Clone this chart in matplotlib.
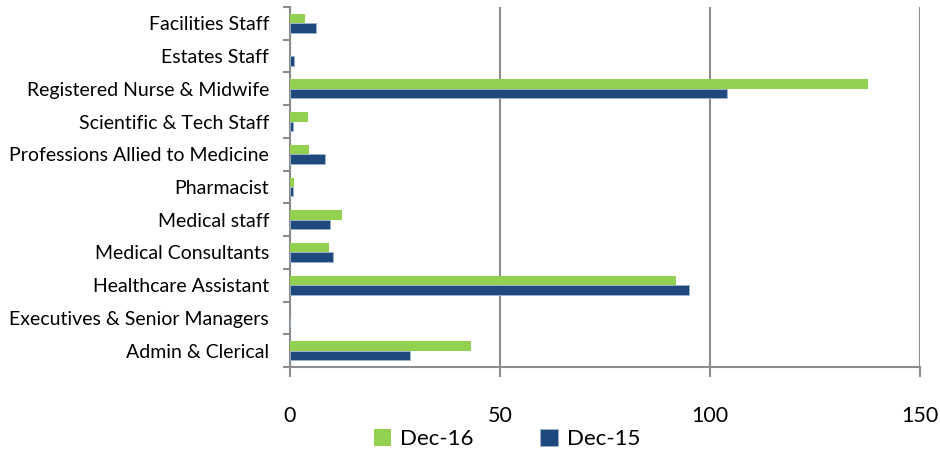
import matplotlib
matplotlib.use("Agg")
import matplotlib.pyplot as plt
import numpy as np

categories = ["Facilities Staff", "Estates Staff", "Registered Nurse & Midwife",
              "Scientific & Tech Staff", "Professions Allied to Medicine", "Pharmacist",
              "Medical staff", "Medical Consultants", "Healthcare Assistant",
              "Executives & Senior Managers", "Admin & Clerical"]
dec16 = [3.6, 0, 137.5, 4.4, 4.5, 1.0, 12.4, 9.2, 92, 0, 43]
dec15 = [6.3, 1.0, 104, 0.8, 8.3, 0.8, 9.6, 10.3, 95, 0, 28.5]
xticks = [0, 50, 100, 150]

plt.rcParams['font.family'] = ['Lato', 'DejaVu Sans']

fig = plt.figure(figsize=(9.4, 4.5), dpi=100)
ax = fig.add_axes([290/940, 1-367/450, 630/940, 360/450])

n = len(categories)
y = np.arange(n)[::-1]
h = 0.29
green = "#92D050"
navy = "#1F497D"
ax.barh(y + h/2, dec16, height=h, color=green, label="Dec-16", zorder=3)
ax.barh(y - h/2, dec15, height=h, color=navy, label="Dec-15", zorder=3,
        edgecolor="#9fb3cc", linewidth=0.6)

ax.set_xlim(0, 150)
ax.set_ylim(-0.5, n - 0.5)
ax.set_xticks(xticks)
ax.set_xticklabels([str(t) for t in xticks], fontsize=15.5)
ax.set_yticks(y)
ax.set_yticklabels(categories, fontsize=14)
ax.set_yticks(np.arange(n + 1) - 0.5, minor=True)
ax.tick_params(axis='y', which='major', length=0, pad=15)
ax.tick_params(axis='y', which='minor', length=5, width=1.5, color="#8c8c8c")
ax.tick_params(axis='x', length=7, width=1.5, color="#8c8c8c", pad=21)

ax.xaxis.grid(True, color="#8c8c8c", linewidth=1.5, zorder=0)
for s in ['top', 'right']:
    ax.spines[s].set_visible(False)
for s in ['left', 'bottom']:
    ax.spines[s].set_color("#8c8c8c")
    ax.spines[s].set_linewidth(1.5)

handles, labels = ax.get_legend_handles_labels()
fig.legend(handles, labels, loc='center', bbox_to_anchor=(507/940, 1-439/450),
           ncol=2, frameon=False, fontsize=16, handlelength=0.8, handleheight=0.8,
           columnspacing=3.0, handletextpad=0.4)

fig.savefig("out.png", dpi=100)
